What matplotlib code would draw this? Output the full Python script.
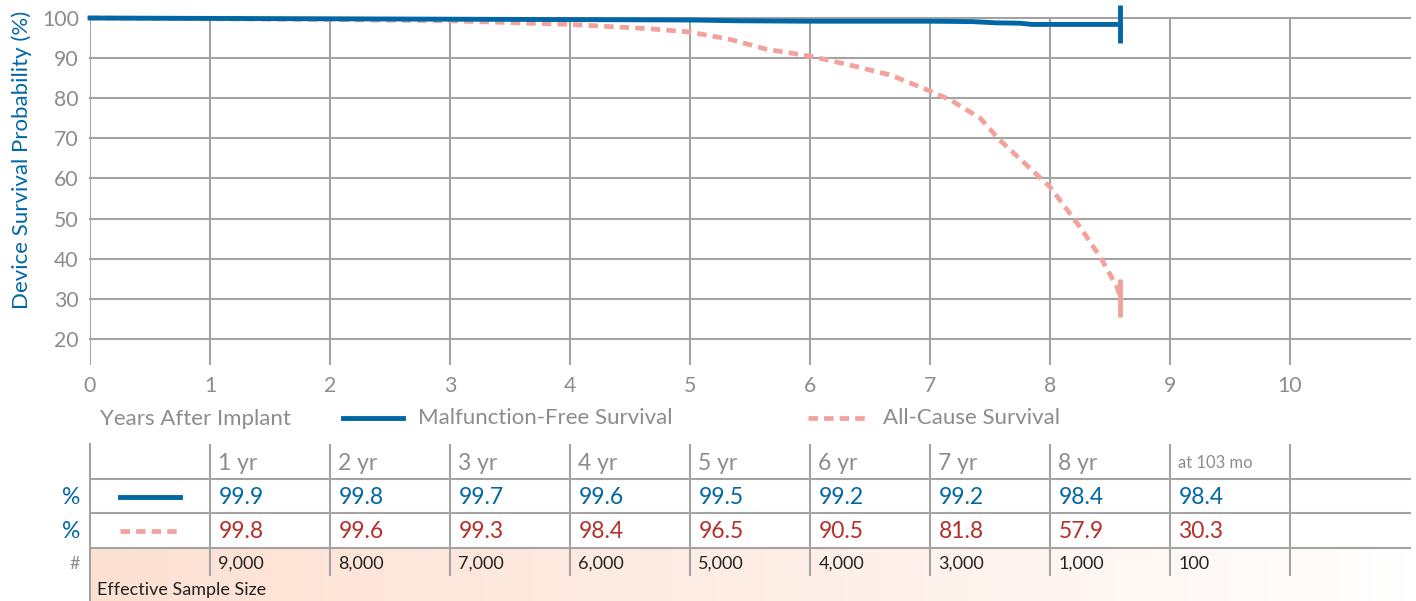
import numpy as np
import matplotlib
matplotlib.use("Agg")
import matplotlib.pyplot as plt

plt.rcParams['font.family'] = ['Lato', 'DejaVu Sans']

# ---------------- data ----------------
malf_t = [0, 1, 2, 3, 4, 5, 5.4, 6, 7, 7.35, 7.55, 7.75, 7.85, 8, 8.583]
malf_v = [100, 99.9, 99.8, 99.7, 99.6, 99.5, 99.3, 99.2, 99.2, 99.1, 98.8, 98.7, 98.4, 98.4, 98.4]

all_t = [0, 1, 2, 3, 4, 4.25, 4.67, 5, 5.33, 5.64, 6, 6.33, 6.67, 7, 7.17,
         7.42, 7.58, 8, 8.25, 8.42, 8.56, 8.583]
all_v = [100, 99.8, 99.6, 99.3, 98.4, 98.0, 97.3, 96.5, 94.7, 92.2, 90.5, 88.3,
         85.8, 81.8, 79.6, 75.0, 69.6, 57.9, 47.9, 40.4, 32.9, 30.3]

col_headers = ["1 yr", "2 yr", "3 yr", "4 yr", "5 yr", "6 yr", "7 yr", "8 yr", "at 103 mo"]
malf_tab = ["99.9", "99.8", "99.7", "99.6", "99.5", "99.2", "99.2", "98.4", "98.4"]
all_tab = ["99.8", "99.6", "99.3", "98.4", "96.5", "90.5", "81.8", "57.9", "30.3"]
ess_tab = ["9,000", "8,000", "7,000", "6,000", "5,000", "4,000", "3,000", "1,000", "100"]

yticks = [20, 30, 40, 50, 60, 70, 80, 90, 100]
xticks = list(range(0, 11))

# ---------------- style ----------------
BLUE = "#0067a5"
PINK = "#f3a29b"
RED = "#b5302a"
GREY = "#8c8c8c"
GRID = "#a3a3a3"

W, H = 1416, 601
fig = plt.figure(figsize=(W / 100, H / 100), dpi=100)

def rect(l, t, r, b):
    return [l / W, 1 - b / H, (r - l) / W, (b - t) / H]

ax = fig.add_axes(rect(90, 18, 1410, 365))
ax.set_xlim(0, 11)
ax.set_ylim(13.52, 100)
for s in ax.spines.values():
    s.set_visible(False)
ax.set_xticks(xticks)
ax.set_yticks(yticks)
ax.tick_params(length=0, labelsize=15.3, labelcolor=GREY, pad=8)
for yv in yticks:
    ax.axhline(yv, color=GRID, lw=1.5, zorder=1, clip_on=False)
for xv in xticks:
    ax.axvline(xv, color=GRID, lw=1.5, zorder=1)

ax.plot(all_t, all_v, color=PINK, lw=3.4, dashes=(2.0, 1.3), zorder=3,
        marker='|', markevery=[len(all_t) - 1], markersize=27, markeredgewidth=3.5,
        clip_on=False, dash_capstyle='butt')
ax.plot(malf_t, malf_v, color=BLUE, lw=3.5, zorder=4, marker='|',
        markevery=[len(malf_t) - 1], markersize=27, markeredgewidth=3.5, clip_on=False)

ax.set_ylabel("Device Survival Probability (%)", color=BLUE, fontsize=16, labelpad=6)
ax.yaxis.set_label_coords(-0.044, 0.59)

# legend row under axis
ax.text(0.083, 0.15, "Years After Implant", color=GREY, fontsize=16, va='center', ha='left',
        clip_on=False)
ax.plot([2.11, 2.61], [0.3, 0.3], color=BLUE, lw=3.5, clip_on=False)
ax.text(2.73, 0.3, "Malfunction-Free Survival", color=GREY, fontsize=16, va='center', ha='left',
        clip_on=False)
ax.plot([5.98, 6.5], [0.3, 0.3], color=PINK, lw=3.4, dashes=(2.0, 1.3), clip_on=False)
ax.text(6.61, 0.3, "All-Cause Survival", color=GREY, fontsize=16, va='center', ha='left',
        clip_on=False)

# ---------------- table ----------------
tab = fig.add_axes(rect(90, 444, 1410, 601))
tab.axis('off')

grad = np.linspace(0, 1, 256)
c0 = np.array([253, 226, 212]) / 255.0
c1 = np.array([255, 255, 255]) / 255.0
wts = np.clip(grad ** 1.3, 0, 1)[None, :, None]
img = c0 * (1 - wts) + c1 * wts
tab.imshow(img, extent=[0, 11, 4.53, 3.0], aspect='auto', zorder=0)
tab.set_xlim(0, 11)
tab.set_ylim(4.53, 0)

for yv in [1, 2, 3]:
    tab.plot([0, 11], [yv, yv], color=GRID, lw=1.5, zorder=2, clip_on=False)
tab.plot([0, 0], [0, 4.53], color=GRID, lw=1.5, zorder=2, clip_on=False)
for xv in range(1, 11):
    tab.plot([xv, xv], [0, 3.78], color=GRID, lw=1.5, zorder=2)

tab.text(-0.08, 1.55, "%", color=BLUE, fontsize=16.5, ha='right', va='center')
tab.text(-0.08, 2.53, "%", color=BLUE, fontsize=16.5, ha='right', va='center')
tab.text(-0.08, 3.45, "#", color=GREY, fontsize=13, ha='right', va='center')
tab.plot([0.25, 0.75], [1.52, 1.52], color=BLUE, lw=3.5)
tab.plot([0.25, 0.75], [2.52, 2.52], color=PINK, lw=3.4, dashes=(2.0, 1.3))

for i in range(len(col_headers)):
    x = i + 1 + 0.07
    hs = 12 if col_headers[i].startswith("at") else 16.5
    tab.text(x, 0.55, col_headers[i], color=GREY, fontsize=hs, ha='left', va='center')
    tab.text(x, 1.55, malf_tab[i], color=BLUE, fontsize=16.5, ha='left', va='center')
    tab.text(x, 2.53, all_tab[i], color=RED, fontsize=16.5, ha='left', va='center')
    tab.text(x, 3.45, ess_tab[i], color="#222222", fontsize=13, ha='left', va='center')

tab.text(0.06, 4.2, "Effective Sample Size", color="#222222", fontsize=13, ha='left', va='center')

fig.savefig("out.png", dpi=100)
